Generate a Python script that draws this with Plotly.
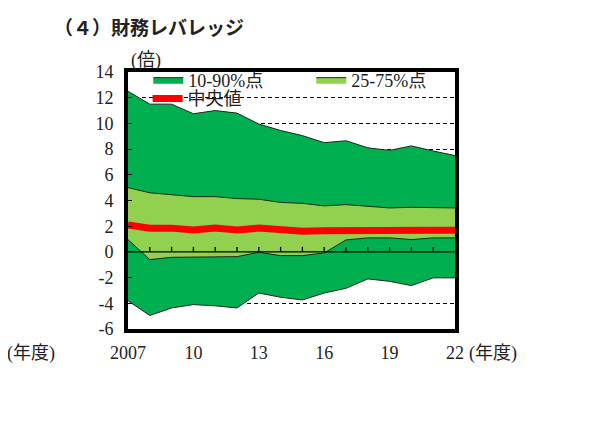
import plotly.graph_objects as go

years = list(range(2007, 2023))
p90 = [12.5, 11.5, 11.5, 10.75, 11.0, 10.8, 9.95, 9.45, 9.05, 8.5, 8.65, 8.1, 7.9, 8.25, 7.85, 7.5]
p75 = [5.0, 4.6, 4.45, 4.3, 4.3, 4.15, 4.1, 3.85, 3.78, 3.58, 3.68, 3.55, 3.42, 3.47, 3.47, 3.42]
median = [2.1, 1.85, 1.85, 1.7, 1.85, 1.7, 1.85, 1.7, 1.6, 1.65, 1.68, 1.68, 1.68, 1.68, 1.68, 1.68]
p25 = [0.95, -0.6, -0.42, -0.42, -0.42, -0.37, -0.03, -0.29, -0.29, -0.08, 0.93, 1.09, 1.09, 0.96, 1.09, 1.09]
p10 = [-3.8, -4.95, -4.36, -4.1, -4.2, -4.36, -3.2, -3.53, -3.74, -3.2, -2.83, -2.1, -2.29, -2.62, -2.02, -2.02]

x_tickvals = [2007, 2010, 2013, 2016, 2019, 2022]
x_ticktext = ["2007", "10", "13", "16", "19", "22"]
y_tickvals = list(range(-6, 15, 2))
y_ticktext = [str(v) for v in y_tickvals]

DARK = "#00B050"
LIGHT = "#92D050"
EDGE = "#1a2a1a"
SERIF = "Liberation Serif, Noto Sans CJK JP"

# page has an 8px body margin; figure coords = screen coords - 8
W, H = 601, 415
L, T, PW, PH = 120, 64, 327, 257

fig = go.Figure()
fig.add_trace(go.Scatter(x=years, y=p10, mode="lines", line=dict(color=EDGE, width=1),
                         showlegend=False, hoverinfo="skip"))
fig.add_trace(go.Scatter(x=years, y=p90, mode="lines", line=dict(color=EDGE, width=1),
                         fill="tonexty", fillcolor=DARK, name="10-90%点", legend="legend"))
fig.add_trace(go.Scatter(x=years, y=p25, mode="lines", line=dict(color=EDGE, width=1),
                         showlegend=False, hoverinfo="skip"))
fig.add_trace(go.Scatter(x=years, y=p75, mode="lines", line=dict(color=EDGE, width=1),
                         fill="tonexty", fillcolor=LIGHT, name="25-75%点", legend="legend"))
fig.add_trace(go.Scatter(x=years, y=median, mode="lines", line=dict(color="#FF0000", width=7),
                         name="中央値", legend="legend2"))

# zero line and year ticks on it
fig.add_shape(type="line", xref="paper", x0=0, x1=1, yref="y", y0=0, y1=0,
              line=dict(color="black", width=1.3), layer="above")
for yr in years[1:-1]:
    fig.add_shape(type="line", xref="x", x0=yr, x1=yr, yref="y", ysizemode="pixel",
                  yanchor=0, y0=0, y1=5, line=dict(color="black", width=1.3), layer="above")

def px(xs):
    return (xs - 8 - L) / PW

fig.update_layout(
    width=W, height=H,
    margin=dict(l=L, r=W - L - PW, t=T, b=H - T - PH),
    paper_bgcolor="white", plot_bgcolor="white",
    font=dict(family=SERIF, size=18, color="#222"),
    title=dict(text="（４）財務レバレッジ", x=46/W, xanchor="left", xref="container",
               y=1-20/H, yanchor="middle", yref="container",
               font=dict(family="Noto Sans CJK JP", size=19, weight="bold", color="#222")),
    xaxis=dict(range=[2007, 2022], tickvals=x_tickvals, ticktext=x_ticktext, ticks="",
               showgrid=False, zeroline=False, showline=True, mirror=True, linewidth=4,
               linecolor="black", tickfont=dict(family=SERIF, size=18, color="#222"),
               ticklabelstandoff=4),
    yaxis=dict(range=[-6, 14], tickvals=y_tickvals, ticktext=y_ticktext, ticks="inside",
               ticklen=4, tickcolor="black", showgrid=True, gridcolor="black", gridwidth=1,
               griddash="4px,3px", zeroline=False, showline=True, mirror=True, linewidth=4,
               linecolor="black", tickfont=dict(family=SERIF, size=18, color="#222"),
               ticklabelstandoff=7),
    legend=dict(orientation="h", x=0.062, xanchor="left", y=0.969, yanchor="middle",
                bgcolor="rgba(0,0,0,0)", entrywidth=118, entrywidthmode="pixels",
                traceorder="normal",
                font=dict(family=SERIF, size=18, color="#222"), tracegroupgap=0),
    legend2=dict(orientation="h", x=0.06, xanchor="left", y=0.896, yanchor="middle",
                 bgcolor="rgba(0,0,0,0)",
                 font=dict(family=SERIF, size=18, color="#222")),
    annotations=[
        dict(text="(倍)", xref="paper", yref="paper", x=px(146), y=1, yshift=12,
             xanchor="center", yanchor="middle", showarrow=False,
             font=dict(family=SERIF, size=18, color="#222")),
        dict(text="(年度)", xref="paper", yref="paper", x=px(5), y=0, yshift=-24,
             xanchor="left", yanchor="middle", showarrow=False,
             font=dict(family=SERIF, size=18, color="#222")),
        dict(text="(年度)", xref="paper", yref="paper", x=px(467), y=0, yshift=-24,
             xanchor="left", yanchor="middle", showarrow=False,
             font=dict(family=SERIF, size=18, color="#222")),
    ],
)

fig.write_html("out.html")
